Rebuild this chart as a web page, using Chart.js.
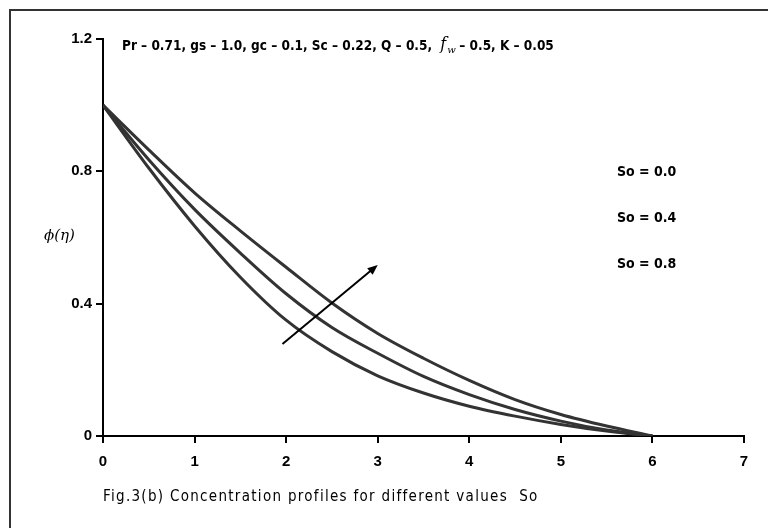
<!DOCTYPE html>
<html>
<head>
<meta charset="utf-8">
<script src="https://cdn.jsdelivr.net/npm/chart.js@4/dist/chart.umd.min.js"></script>
<style>
  html, body { margin: 0; padding: 0; background: #fff; }
  #wrap { width: 768px; height: 528px; }
</style>
</head>
<body>
<div id="wrap"><canvas id="chart" width="768" height="528"></canvas></div>
<script>
// eta values and concentration profiles phi(eta) for three So values
const etaValues = [0, 0.5, 1, 1.5, 2, 2.5, 3, 3.5, 4, 4.5, 5, 5.5, 6];
const phiSo00 = [1, 0.865, 0.735, 0.62, 0.51, 0.402, 0.31, 0.235, 0.168, 0.11, 0.065, 0.03, 0];
const phiSo04 = [1, 0.835, 0.685, 0.553, 0.43, 0.328, 0.25, 0.18, 0.125, 0.08, 0.045, 0.018, 0];
const phiSo08 = [1, 0.81, 0.635, 0.48, 0.35, 0.255, 0.182, 0.13, 0.09, 0.06, 0.035, 0.015, 0];

const seriesLabels = ['So = 0.0', 'So = 0.4', 'So = 0.8'];
const xTicks = [0, 1, 2, 3, 4, 5, 6, 7];
const yTicks = [0, 0.4, 0.8, 1.2];

// arrow in data coordinates (start, end)
const arrowX = [1.96, 3.0];
const arrowY = [0.278, 0.517];

const paramText = 'Pr \u2013 0.71, gs \u2013 1.0, gc \u2013 0.1, Sc \u2013 0.22, Q \u2013 0.5,';
const paramTail = '\u2013 0.5, K \u2013 0.05';
const caption = 'Fig.3(b) Concentration profiles for different values  So';

const toPoints = ys => etaValues.map((x, i) => ({ x: x, y: ys[i] }));

function lineSet(label, ys) {
  return {
    label: label,
    data: toPoints(ys),
    borderColor: '#333333',
    borderWidth: 3,
    pointRadius: 0,
    fill: false,
    cubicInterpolationMode: 'monotone'
  };
}

// texts, arrow and frame
const extras = {
  id: 'extras',
  afterDraw(chart) {
    const ctx = chart.ctx;
    const xs = chart.scales.x, ys = chart.scales.y;
    ctx.save();

    // outer frame (left + top only visible)
    ctx.strokeStyle = '#333';
    ctx.lineWidth = 2;
    ctx.beginPath();
    ctx.moveTo(10, 528);
    ctx.lineTo(10, 10);
    ctx.lineTo(768, 10);
    ctx.stroke();

    ctx.fillStyle = '#000';
    ctx.textBaseline = 'middle';

    // parameter line
    const pf = 'bold 13.5px "DejaVu Sans Condensed", "DejaVu Sans"';
    ctx.font = pf;
    ctx.fillText(paramText, 122, 46);
    let w = ctx.measureText(paramText + ' ').width;
    ctx.font = 'italic 16px "DejaVu Serif", serif';
    ctx.fillText('f', 122 + w + 4, 45);
    ctx.font = 'italic 10px "DejaVu Serif", serif';
    ctx.fillText('w', 122 + w + 11, 50);
    ctx.font = pf;
    ctx.fillText(paramTail, 122 + w + 23, 46);

    // series labels
    ctx.font = 'bold 14px "DejaVu Sans Condensed", "DejaVu Sans"';
    const ly = [172, 218, 264];
    seriesLabels.forEach((t, i) => ctx.fillText(t, 617, ly[i]));

    // y axis label
    ctx.font = 'italic 15px "DejaVu Serif", serif';
    ctx.fillText('\u03d5(\u03b7)', 44, 236);

    // caption
    ctx.font = '15px "DejaVu Sans Condensed", "DejaVu Sans"';
    ctx.letterSpacing = '1.3px';
    ctx.fillText(caption, 103, 497);
    ctx.letterSpacing = '0px';

    // arrow
    const x1 = xs.getPixelForValue(arrowX[0]), y1 = ys.getPixelForValue(arrowY[0]);
    const x2 = xs.getPixelForValue(arrowX[1]), y2 = ys.getPixelForValue(arrowY[1]);
    const ang = Math.atan2(y2 - y1, x2 - x1);
    ctx.strokeStyle = '#000';
    ctx.lineWidth = 2;
    ctx.beginPath();
    ctx.moveTo(x1, y1);
    ctx.lineTo(x2 - 6 * Math.cos(ang), y2 - 6 * Math.sin(ang));
    ctx.stroke();
    ctx.beginPath();
    ctx.moveTo(x2, y2);
    ctx.lineTo(x2 - 11 * Math.cos(ang - 0.4), y2 - 11 * Math.sin(ang - 0.4));
    ctx.lineTo(x2 - 11 * Math.cos(ang + 0.4), y2 - 11 * Math.sin(ang + 0.4));
    ctx.closePath();
    ctx.fillStyle = '#000';
    ctx.fill();

    ctx.restore();
  }
};

new Chart(document.getElementById('chart'), {
  type: 'line',
  data: {
    datasets: [
      lineSet(seriesLabels[0], phiSo00),
      lineSet(seriesLabels[1], phiSo04),
      lineSet(seriesLabels[2], phiSo08)
    ]
  },
  options: {
    responsive: false,
    animation: false,
    layout: { padding: { left: 0, right: 24, top: 39, bottom: 0 } },
    plugins: {
      legend: { display: false },
      tooltip: { enabled: false }
    },
    scales: {
      x: {
        type: 'linear',
        min: 0,
        max: 7,
        afterFit: s => { s.height = 92; },
        afterBuildTicks: s => { s.ticks = xTicks.map(v => ({ value: v })); },
        grid: { drawOnChartArea: false, drawTicks: true, tickLength: 7, color: '#000', lineWidth: 2 },
        border: { display: true, color: '#000', width: 2 },
        ticks: {
          color: '#000',
          padding: 10,
          maxRotation: 0,
          font: { family: 'Liberation Sans, Arial', size: 15, weight: 'bold' }
        }
      },
      y: {
        min: 0,
        max: 1.2,
        afterFit: s => { s.width = 103; },
        afterBuildTicks: s => { s.ticks = yTicks.map(v => ({ value: v })); },
        grid: { drawOnChartArea: false, drawTicks: true, tickLength: 7, color: '#000', lineWidth: 2 },
        border: { display: true, color: '#000', width: 2 },
        ticks: {
          color: '#000',
          padding: 4,
          font: { family: 'Liberation Sans, Arial', size: 15, weight: 'bold' },
          callback: v => (v === 0 ? '0' : v.toFixed(1))
        }
      }
    }
  },
  plugins: [extras]
});
</script>
</body>
</html>
